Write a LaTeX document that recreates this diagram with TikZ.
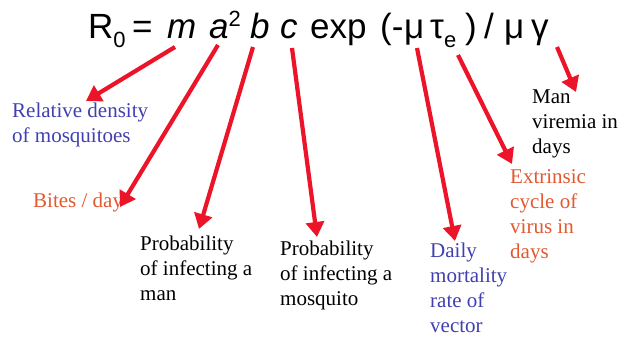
\documentclass[tikz,border=0pt]{standalone}
\usepackage{fontspec}
\setmainfont{Liberation Serif}
\newfontfamily\eqfont{Liberation Sans}
\usetikzlibrary{arrows.meta}
\definecolor{arrowred}{RGB}{236,20,40}
\definecolor{lblblue}{RGB}{64,64,176}
\definecolor{lblorange}{RGB}{226,88,48}
\tikzset{
  eq/.style={anchor=base west, inner sep=0pt, font=\eqfont\fontsize{35}{40}\selectfont},
  lbl/.style={anchor=north west, inner sep=0pt, align=left, font=\fontsize{21}{25}\selectfont},
  redarrow/.style={draw=arrowred, line width=4.2pt, -{Triangle[length=15pt,width=18pt]}}
}
\newcommand{\mysub}[1]{\raisebox{-0.24em}{\fontsize{22}{22}\selectfont #1}}
\newcommand{\mysup}[1]{\raisebox{0.36em}{\fontsize{22}{22}\selectfont #1}}
\begin{document}
\begin{tikzpicture}[x=1pt,y=-1pt]
\useasboundingbox (0,0) rectangle (624,337);
% equation terms
\node[eq] (R) at (88,39) {R\mysub{0}};
\node[eq] (eqsign) at (132,39) {=};
\node[eq] (m) at (167,39) {\itshape m};
\node[eq] (a) at (209,39) {\itshape a\upshape\mysup{2}};
\node[eq] (b) at (250,39) {\itshape b};
\node[eq] (c) at (280,39) {\itshape c};
\node[eq] (exp) at (310,39) {exp};
\node[eq] (lp) at (380,39) {(-};
\node[eq] (mu1) at (404,39) {μ};
\node[eq] (tau) at (430,39) {τ\mysub{e}};
\node[eq] (rp) at (465,39) {)};
\node[eq] (sl) at (484,39) {/};
\node[eq] (mu2) at (504,39) {μ};
\node[eq] (gam) at (531,39) {γ};
% labels
\node[lbl, text=lblblue] (rel) at (12,102.5) {Relative density\\of mosquitoes};
\node[lbl, text=lblorange] (bites) at (33,192.5) {Bites / day};
\node[lbl] (pman) at (140,235.5) {Probability\\of infecting a\\man};
\node[lbl] (pmos) at (280,240.5) {Probability\\of infecting a\\mosquito};
\node[lbl, text=lblblue] (daily) at (430,242.5) {Daily\\mortality\\rate of\\vector};
\node[lbl, text=lblorange] (extr) at (510,169.5) {Extrinsic\\cycle of\\virus in\\days};
\node[lbl] (man) at (532,89.5) {Man\\viremia in\\days};
% arrow ends
\coordinate (sm) at (175,47);  \coordinate (tm) at (86,101);
\coordinate (sa) at (218,45);  \coordinate (ta) at (120,207);
\coordinate (sb) at (253,47);  \coordinate (tb) at (199,229);
\coordinate (sc) at (292,48);  \coordinate (tc) at (317,237);
\coordinate (smu) at (417,48); \coordinate (tmu) at (455,241);
\coordinate (stau) at (458,55); \coordinate (ttau) at (512,164);
\coordinate (sg) at (557,47);  \coordinate (tg) at (576,92);
\draw[redarrow] (sm) -- (tm);
\draw[redarrow] (sa) -- (ta);
\draw[redarrow] (sb) -- (tb);
\draw[redarrow] (sc) -- (tc);
\draw[redarrow] (smu) -- (tmu);
\draw[redarrow] (stau) -- (ttau);
\draw[redarrow] (sg) -- (tg);
\end{tikzpicture}
\end{document}
